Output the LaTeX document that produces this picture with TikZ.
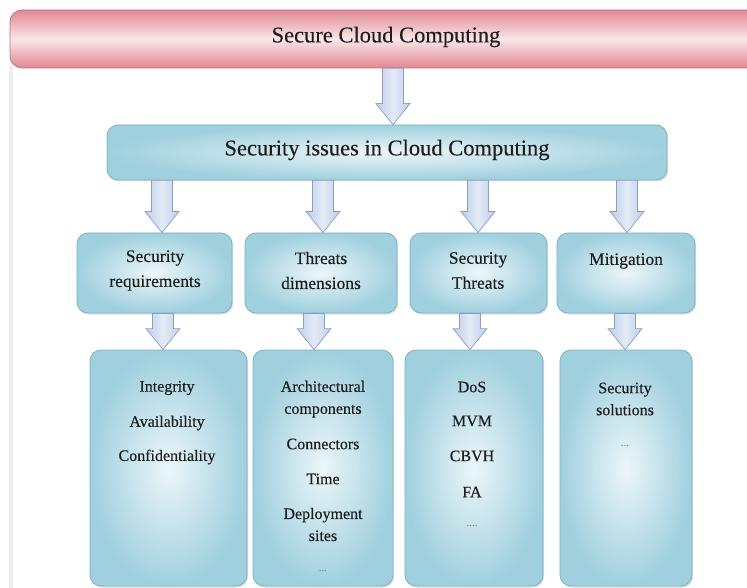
\documentclass[tikz,border=0pt]{standalone}
\usepackage{fontspec}
\setmainfont{Liberation Serif}
\usetikzlibrary{calc,shadows}
\definecolor{boxedge}{RGB}{125,178,195}
\definecolor{boxdark}{RGB}{160,208,222}
\definecolor{boxlight}{RGB}{236,246,249}
\definecolor{pinkdark}{RGB}{224,136,146}
\definecolor{pinklight}{RGB}{250,230,232}
\definecolor{pinkedge}{RGB}{185,120,128}
\definecolor{arrfill}{RGB}{190,205,232}
\definecolor{arrlight}{RGB}{228,235,247}
\definecolor{arredge}{RGB}{140,158,195}
\definecolor{txt}{RGB}{30,30,30}
\definecolor{dots}{RGB}{120,120,120}
\newcommand\blockarr[3]{%
  \path[barrow] let \p1=(#2.south), \p2=(#3.north) in
   (#1pt-10.5pt,\y1) -- (#1pt+10.5pt,\y1) -- (#1pt+10.5pt,\y2+21pt) -- (#1pt+17pt,\y2+21pt)
   -- (#1pt,\y2) -- (#1pt-17pt,\y2+21pt) -- (#1pt-10.5pt,\y2+21pt) -- cycle;}
\begin{document}
\begin{tikzpicture}[x=1pt,y=-1pt,
  banner/.style={draw=pinkedge, line width=0.8pt, rounded corners=12pt,
    top color=pinkdark, bottom color=pinkdark, middle color=pinklight,
    minimum width=750pt, minimum height=58pt, inner sep=0pt},
  cbox/.style={draw=boxedge, line width=0.8pt, rounded corners=11pt,
    inner color=boxlight, outer color=boxdark, inner sep=0pt,
    drop shadow={opacity=0.25, shadow xshift=1.2pt, shadow yshift=-1.5pt}},
  barrow/.style={draw=arredge, line width=0.7pt, left color=arrfill, right color=arrfill, middle color=arrlight},
  ttl/.style={text=txt, font=\fontsize{22.5}{26}\selectfont\addfontfeature{FakeBold=0.3}},
  lvl/.style={text=txt, align=center, font=\fontsize{17.5}{25}\selectfont\addfontfeature{FakeBold=0.3}},
  itm/.style={text=txt, align=center, font=\fontsize{16}{22}\selectfont\addfontfeature{FakeBold=0.3}},
  dt/.style={text=dots, font=\fontsize{11}{13}\selectfont}]
 \useasboundingbox (0,0) rectangle (747,588);
 \fill[white] (0,0) rectangle (747,588);
 \draw[black!7, line width=4pt] (11,66) -- (11,590);

 % boxes
 \node[banner] (top) at (385,39) {};
 \node[cbox, minimum width=560pt, minimum height=55pt] (issues) at (387,152.5) {};
 \node[cbox, minimum width=155pt, minimum height=80pt] (r1) at (154.5,273) {};
 \node[cbox, minimum width=152pt, minimum height=80pt] (r2) at (321,273) {};
 \node[cbox, minimum width=137pt, minimum height=80pt] (r3) at (478.5,273) {};
 \node[cbox, minimum width=138pt, minimum height=80pt] (r4) at (626,273) {};
 \node[cbox, minimum width=157pt, minimum height=236pt] (b1) at (168.5,468) {};
 \node[cbox, minimum width=140pt, minimum height=236pt] (b2) at (323,468) {};
 \node[cbox, minimum width=138pt, minimum height=236pt] (b3) at (474,468) {};
 \node[cbox, minimum width=132pt, minimum height=236pt] (b4) at (626,468) {};

 % arrows
 \blockarr{393}{top}{issues}
 \blockarr{162}{issues}{r1}
 \blockarr{323}{issues}{r2}
 \blockarr{478}{issues}{r3}
 \blockarr{627}{issues}{r4}
 \blockarr{163}{r1}{b1}
 \blockarr{314}{r2}{b2}
 \blockarr{470}{r3}{b3}
 \blockarr{625}{r4}{b4}

 % texts
 \node[ttl] (ttop) at (386,37) {Secure Cloud Computing};
 \node[ttl] (tissues) at (387,150) {Security issues in Cloud Computing};
 \node[lvl] (tr1) at (155,270.5) {Security\\requirements};
 \node[lvl] (tr2) at (321,270.5) {Threats\\dimensions};
 \node[lvl] (tr3) at (478,270.5) {Security\\Threats};
 \node[lvl] (tr4) at (626,261) {Mitigation};

 \node[itm] (i11) at (167,388) {Integrity};
 \node[itm] (i12) at (167,423) {Availability};
 \node[itm] (i13) at (167,457) {Confidentiality};

 \node[itm] (i21) at (323,399) {Architectural\\components};
 \node[itm] (i22) at (323,444) {Connectors};
 \node[itm] (i23) at (323,479) {Time};
 \node[itm] (i24) at (323,524.5) {Deployment\\sites};
 \node[dt]  (i25) at (323,571) {...};

 \node[itm] (i31) at (472,387) {DoS};
 \node[itm] (i32) at (472,421) {MVM};
 \node[itm] (i33) at (472,456) {CBVH};
 \node[itm] (i34) at (472,492) {FA};
 \node[dt]  (i35) at (472,526) {....};

 \node[itm] (i41) at (625,399) {Security\\solutions};
 \node[dt]  (i42) at (625,446) {...};
\end{tikzpicture}
\end{document}
